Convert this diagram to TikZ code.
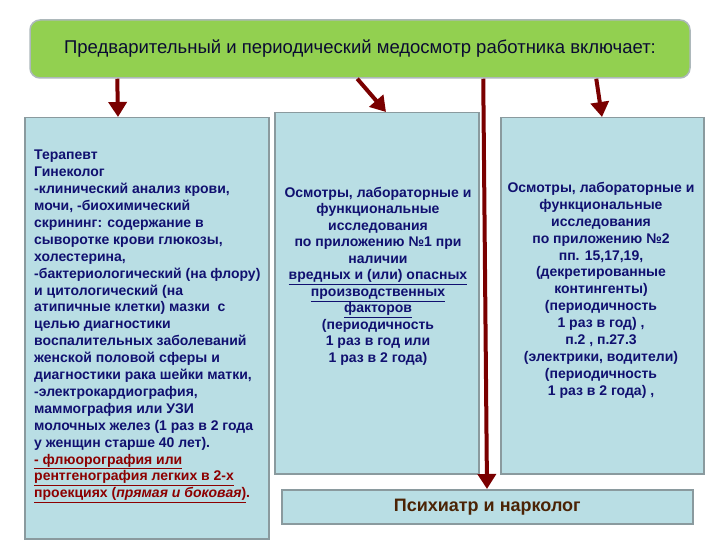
\documentclass[tikz,border=0pt]{standalone}
\usepackage{fontspec}
\setmainfont{Liberation Sans}
\usetikzlibrary{arrows.meta,calc}

\definecolor{boxblue}{RGB}{185,222,228}
\definecolor{boxedge}{RGB}{138,154,158}
\definecolor{titlegreen}{RGB}{146,208,80}
\definecolor{arrowred}{RGB}{122,0,0}
\definecolor{navytext}{RGB}{16,16,112}
\definecolor{browntext}{RGB}{75,35,5}
\definecolor{redtext}{RGB}{140,0,0}

\begin{document}
\begin{tikzpicture}[x=1pt, y=-1pt,
    panel/.style={draw=boxedge, line width=1.5pt, fill=boxblue, inner sep=0pt, anchor=north west},
    link/.style={draw=arrowred, line width=4pt, -{Triangle[width=18pt,length=15pt]}},
    body/.style={font=\fontsize{14}{16.9}\selectfont\bfseries, text=navytext, inner sep=0pt}]
    \useasboundingbox (0,0) rectangle (720,540);

    % header
    \node[draw=boxedge!70, fill=titlegreen, rounded corners=10pt, line width=1.5pt,
        minimum width=660pt, minimum height=58pt, text={rgb,255:red,10;green,10;blue,50}]
        (title) at (360,49) {\fontsize{18.5}{22}\selectfont Предварительный и периодический медосмотр работника включает:};

    % three columns and the bottom box
    \node[panel, minimum width=244pt, minimum height=421pt] (ther) at (24,117) {};
    \node[panel, minimum width=204pt, minimum height=361pt] (harm) at (274,112) {};
    \node[panel, minimum width=203pt, minimum height=356pt] (decr) at (500,117) {};
    \node[panel, minimum width=411pt, minimum height=34pt,
        font=\fontsize{18}{20}\selectfont\bfseries, text=browntext] (psych) at (281,489) {Психиатр и нарколог};

    \node[body, anchor=north west, align=left] (thertext) at (34,150) {%
        Терапевт\\
        Гинеколог\\
        -клинический анализ крови,\\
        мочи, -биохимический\\
        скрининг: содержание в\\
        сыворотке крови глюкозы,\\
        холестерина,\\
        -бактериологический (на флору)\\
        и цитологический (на\\
        атипичные клетки) мазки\ \ с\\
        целью диагностики\\
        воспалительных заболеваний\\
        женской половой сферы и\\
        диагностики рака шейки матки,\\
        -электрокардиография,\\
        маммография или УЗИ\\
        молочных желез (1 раз в 2 года\\
        у женщин старше 40 лет).\\
        \textcolor{redtext}{\underline{- флюорография или}}\\
        \textcolor{redtext}{\underline{рентгенография легких в 2-х}}\\
        \textcolor{redtext}{\underline{проекциях (\textit{прямая и боковая})}.}};

    \node[body, anchor=north, align=center, font=\fontsize{14}{16.5}\selectfont\bfseries] (harmtext) at (378,187) {%
        Осмотры, лабораторные и\\
        функциональные\\
        исследования\\
        по приложению №1 при\\
        наличии\\
        \underline{вредных и (или) опасных}\\
        \underline{производственных}\\
        \underline{факторов}\\
        (периодичность\\
        1 раз в год или\\
        1 раз в 2 года)};

    \node[body, anchor=north, align=center] (decrtext) at (601,182) {%
        Осмотры, лабораторные и\\
        функциональные\\
        исследования\\
        по приложению №2\\
        пп. 15,17,19,\\
        (декретированные\\
        контингенты)\\
        (периодичность\\
        1 раз в год) ,\\
        п.2 , п.27.3\\
        (электрики, водители)\\
        (периодичность\\
        1 раз в 2 года) ,};

    % arrows
    \draw[link] ($(title.south west)+(88,0)$) -- ($(ther.north west)+(94,0)$);
    \draw[link] ($(title.south west)+(328,0)$) -- ($(harm.north west)+(112,0)$);
    \draw[link] ($(title.south west)+(454,0)$) -- ($(psych.north west)+(206,0)$);
    \draw[link] ($(title.south west)+(567,0)$) -- ($(decr.north west)+(102,0)$);
\end{tikzpicture}
\end{document}
